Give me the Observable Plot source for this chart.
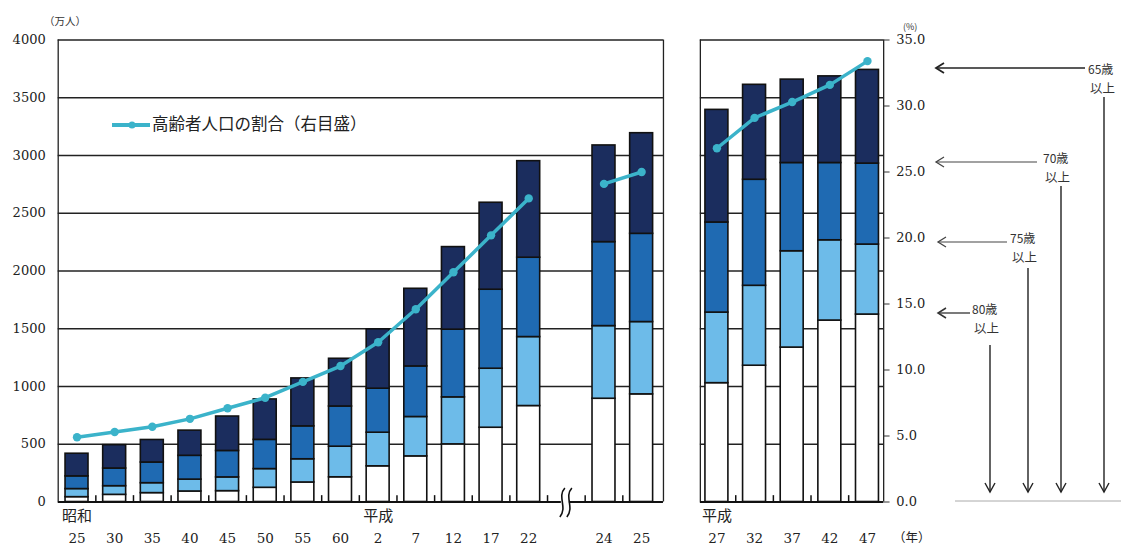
<!DOCTYPE html>
<html><head><meta charset="utf-8">
<script src="https://cdn.jsdelivr.net/npm/d3@7"></script>
<script src="https://cdn.jsdelivr.net/npm/@observablehq/plot@0.6"></script>
<style>body{margin:0;background:#fff;}</style>
</head><body><div id="chart"></div>
<script>
// ---- data (万人, %) ----
const historicYears = ["昭和25","昭和30","昭和35","昭和40","昭和45","昭和50","昭和55","昭和60","平成2","平成7","平成12","平成17","平成22"];
const recentYears = ["平成24","平成25"];
const projectedYears = ["平成27","平成32","平成37","平成42","平成47"];
const yearLabels = ["25","30","35","40","45","50","55","60","2","7","12","17","22","24","25","27","32","37","42","47"];
const eraLabels = [{cat:"昭和25", text:"昭和"}, {cat:"平成2", text:"平成"}, {cat:"平成27", text:"平成"}];
const pop65 = [418, 492, 537, 618, 740, 888, 1070, 1240, 1495, 1846, 2207, 2591, 2951, 3087, 3193, 3395, 3612, 3657, 3685, 3741];
const pop70 = [222, 290, 342, 400, 442, 538, 655, 827, 981, 1174, 1492, 1838, 2115, 2250, 2322, 2420, 2790, 2935, 2935, 2930];
const pop75 = [112, 137, 163, 194, 213, 285, 370, 479, 600, 736, 906, 1154, 1428, 1523, 1558, 1640, 1872, 2171, 2266, 2229];
const pop80 = [42, 62, 77, 91, 94, 123, 169, 214, 309, 395, 499, 643, 831, 894, 932, 1029, 1180, 1337, 1571, 1623];
const ratio = [4.9, 5.3, 5.7, 6.3, 7.1, 7.9, 9.1, 10.3, 12.1, 14.6, 17.4, 20.2, 23.0, 24.1, 25.0, 26.8, 29.1, 30.3, 31.6, 33.4];
const leftTicks = [0, 500, 1000, 1500, 2000, 2500, 3000, 3500, 4000];
const pctTicks = [0, 5, 10, 15, 20, 25, 30, 35];
const legendText = "高齢者人口の割合（右目盛）";
const ageNotes = [
  {label:"65歳", sub:"以上"}, {label:"70歳", sub:"以上"},
  {label:"75歳", sub:"以上"}, {label:"80歳", sub:"以上"}
];

// ---- styles ----
const NAVY = "#1b2d5e", MID = "#1f6ab2", LIGHT = "#6dbbe9", LINE = "#3bb3ca";
const SERIF = "'DejaVu Serif', 'Liberation Serif', serif";
const JP = "'Noto Sans CJK JP', sans-serif";
const PCT_MAX = 35, POP_MAX = 4000;

// slots: historic, break slot, recent, gap slot, projected
const sections = [historicYears, recentYears, projectedYears];
const cats = [];
let slot = 0;
sections.forEach((sec, s) => {
  sec.forEach(c => { cats.push({cat: c, pos: slot, seg: s}); slot++; });
  slot++; // break / gap slot
});
cats.forEach((d, i) => {
  d.label = yearLabels[i];
  d.v65 = pop65[i]; d.v70 = pop70[i]; d.v75 = pop75[i]; d.v80 = pop80[i];
  d.pct = ratio[i];
  d.pv = ratio[i] * POP_MAX / PCT_MAX;
});
const posOf = c => cats.find(d => d.cat === c).pos;

const lastLeft = posOf(recentYears[recentYears.length - 1]);
const firstRight = posOf(projectedYears[0]);
const lastRight = posOf(projectedYears[projectedYears.length - 1]);
const panels = [
  {x1: -0.5, x2: lastLeft + 0.58},
  {x1: firstRight - 0.44, x2: lastRight + 0.43}
];

const half = 0.305;
const segs = [];
cats.forEach(d => {
  const b = [0, d.v80, d.v75, d.v70, d.v65];
  const fills = ["#ffffff", LIGHT, MID, NAVY];
  for (let k = 0; k < 4; k++) segs.push({x1: d.pos - half, x2: d.pos + half, y1: b[k], y2: b[k + 1], fill: fills[k]});
});

const grid = [];
panels.forEach(p => leftTicks.filter(t => t > 0).forEach(t => grid.push({y: t, x1: p.x1, x2: p.x2})));
const base = panels.map(p => ({y: 0, x1: p.x1, x2: p.x2}));
const sides = panels.flatMap(p => [p.x1, p.x2]);

const tickMarks = [];
cats.forEach((d, i) => {
  const n = cats[i + 1];
  if (n && n.seg === d.seg) tickMarks.push(d.pos + 0.5);
  if (d.cat === historicYears[historicYears.length - 1]) { tickMarks.push(d.pos + 0.5); tickMarks.push(d.pos + 1.5); }
});

const eras = eraLabels.map(e => ({pos: posOf(e.cat), text: e.text}));

const chart = Plot.plot({
  width: 1121, height: 550,
  marginLeft: 57.7, marginRight: 235.2, marginTop: 39.5, marginBottom: 48.5,
  x: {domain: [-0.5, 21.5], axis: null},
  y: {domain: [0, POP_MAX], axis: null},
  color: {type: "identity"},
  style: {background: "#fff", overflow: "visible"},
  marks: [
    Plot.ruleY(grid, {y: "y", x1: "x1", x2: "x2", stroke: "#222", strokeWidth: 1.3}),
    Plot.ruleX(sides, {x: d => d, y1: 0, y2: POP_MAX, stroke: "#222", strokeWidth: 1.3}),
    Plot.ruleX(tickMarks, {x: d => d, y1: 0, y2: 55, stroke: "#111", strokeWidth: 1.5}),
    Plot.rect(segs, {x1: "x1", x2: "x2", y1: "y1", y2: "y2", fill: "fill", stroke: "#111", strokeWidth: 1.6}),
    Plot.ruleY(base, {y: "y", x1: "x1", x2: "x2", stroke: "#111", strokeWidth: 2}),
    Plot.ruleY(pctTicks, {y: d => d * POP_MAX / PCT_MAX, x1: panels[1].x2, x2: panels[1].x2 + 0.17, stroke: "#333", strokeWidth: 1}),
    Plot.line(cats, {x: "pos", y: "pv", z: "seg", stroke: LINE, strokeWidth: 3.5}),
    Plot.dot(cats, {x: "pos", y: "pv", r: 4.2, fill: LINE, stroke: "none"}),
    Plot.text(leftTicks, {y: d => d, text: d => String(d), frameAnchor: "left", textAnchor: "end", dx: -12.5, fontSize: 13, fontFamily: SERIF, fill: "#222"}),
    Plot.text(pctTicks, {y: d => d * POP_MAX / PCT_MAX, text: d => d.toFixed(1), frameAnchor: "right", textAnchor: "start", dx: 10, fontSize: 13, fontFamily: SERIF, fill: "#222"}),
    Plot.text(cats, {x: "pos", text: "label", frameAnchor: "bottom", dy: 41, fontSize: 13.5, fontFamily: SERIF, fill: "#222"}),
    Plot.text(eras, {x: "pos", text: "text", frameAnchor: "bottom", dy: 19, fontSize: 15, fontFamily: JP, fill: "#222"})
  ]
});
document.getElementById("chart").appendChild(chart);

// ---- decorations (legend, units, annotations) ----
const svg = d3.select(chart);
const xs = chart.scale("x");
const g = svg.append("g").attr("text-anchor", "start");

// legend
g.append("line").attr("x1", 112).attr("x2", 150).attr("y1", 125).attr("y2", 125).attr("stroke", LINE).attr("stroke-width", 4);
g.append("circle").attr("cx", 132).attr("cy", 125).attr("r", 3.5).attr("fill", LINE);
g.append("text").attr("x", 152).attr("y", 126).attr("dominant-baseline", "middle").attr("font-family", JP).attr("font-size", 16.5).attr("fill", "#222").text(legendText);

// units
g.append("text").attr("x", 44).attr("y", 25).attr("font-family", JP).attr("font-size", 10.5).attr("fill", "#333").text("（万人）");
g.append("text").attr("x", 903).attr("y", 30).attr("font-family", JP).attr("font-size", 9).attr("fill", "#333").text("(%)");
g.append("text").attr("x", 893).attr("y", 539).attr("dominant-baseline", "middle").attr("font-family", JP).attr("font-size", 12.5).attr("fill", "#222").text("（年）");

// break mark
const bx = xs.apply(posOf(historicYears[historicYears.length - 1]) + 1);
g.append("rect").attr("x", bx - 5).attr("y", 497).attr("width", 8).attr("height", 9).attr("fill", "#fff");
[-4, 3].forEach(o => {
  g.append("path").attr("d", `M ${bx + o + 3} 488 C ${bx + o - 5} 497, ${bx + o + 6} 507, ${bx + o - 2} 517`).attr("fill", "none").attr("stroke", "#111").attr("stroke-width", 1.6);
});

// age annotations
const notes = [
  {ay: 68, x0: 936, x1: 1085, tx: 1088, ty: 71, vx: 1104, vy: 97, w: 1.6, c: "#222"},
  {ay: 162, x0: 936, x1: 1037, tx: 1043, ty: 160, vx: 1061, vy: 186, w: 1.1, c: "#444"},
  {ay: 242, x0: 938, x1: 1007, tx: 1010, ty: 240, vx: 1028, vy: 268, w: 1.1, c: "#444"},
  {ay: 313, x0: 938, x1: 970, tx: 972, ty: 311, vx: 990, vy: 345, w: 1.3, c: "#333"}
];
notes.forEach((n, i) => {
  g.append("line").attr("x1", n.x0).attr("x2", n.x1).attr("y1", n.ay).attr("y2", n.ay).attr("stroke", n.c).attr("stroke-width", n.w);
  g.append("path").attr("d", `M ${n.x0 + 8} ${n.ay - 5} L ${n.x0} ${n.ay} L ${n.x0 + 8} ${n.ay + 5}`).attr("fill", "none").attr("stroke", n.c).attr("stroke-width", n.w + 0.2);
  g.append("text").attr("x", n.tx).attr("y", n.ty).attr("dominant-baseline", "middle").attr("font-family", JP).attr("font-size", 12).attr("fill", "#333").text(ageNotes[i].label);
  g.append("text").attr("x", n.tx + 2).attr("y", n.ty + 19).attr("dominant-baseline", "middle").attr("font-family", JP).attr("font-size", 12.5).attr("fill", "#333").text(ageNotes[i].sub);
  g.append("line").attr("x1", n.vx).attr("x2", n.vx).attr("y1", n.vy).attr("y2", 492).attr("stroke", "#222").attr("stroke-width", 1.4);
  g.append("path").attr("d", `M ${n.vx - 5} 483 L ${n.vx} 492 L ${n.vx + 5} 483`).attr("fill", "none").attr("stroke", "#222").attr("stroke-width", 1.4);
});
g.append("line").attr("x1", 955).attr("x2", 1121).attr("y1", 501).attr("y2", 501).attr("stroke", "#aaa").attr("stroke-width", 1);
</script></body></html>
